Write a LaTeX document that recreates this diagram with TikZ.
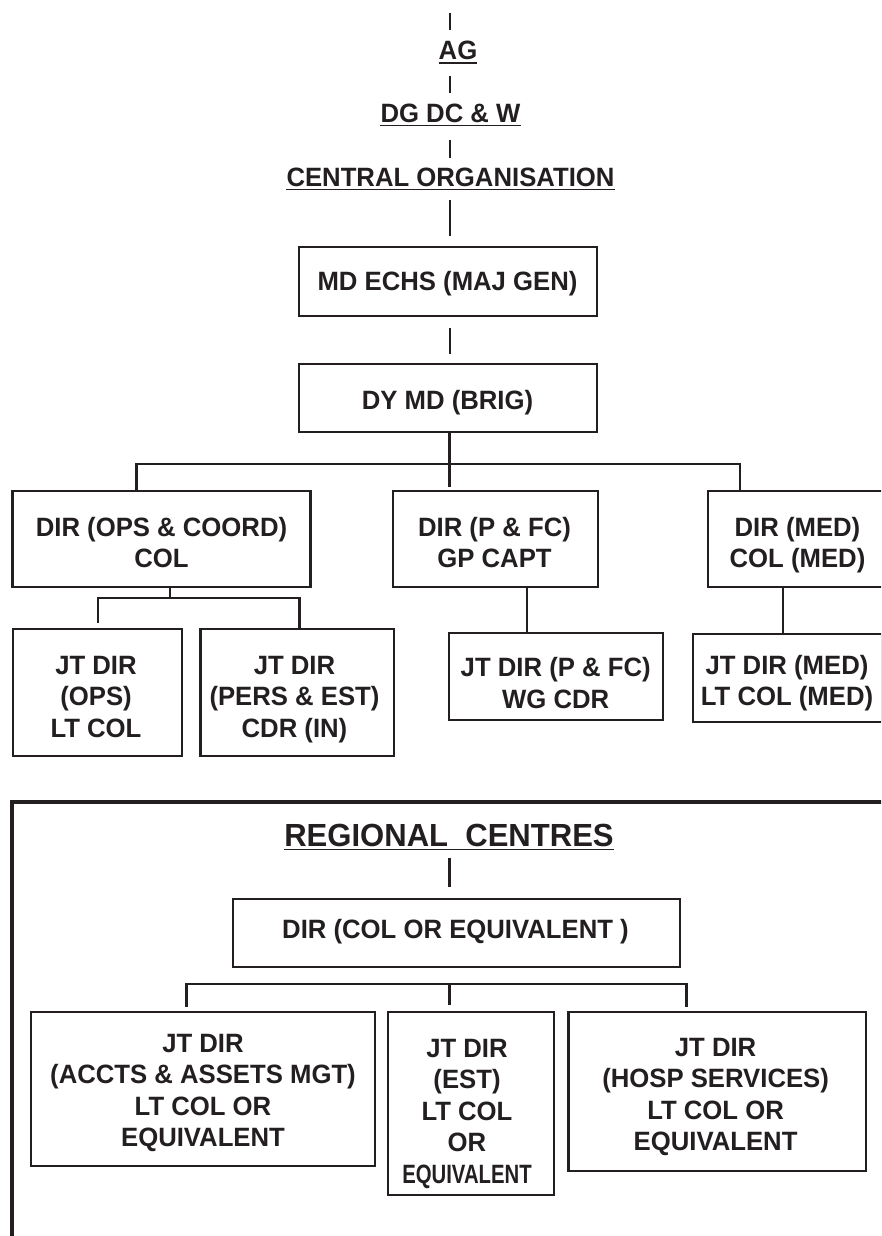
\documentclass[tikz,border=0pt]{standalone}
\usepackage{fontspec}
\setmainfont{Liberation Sans}[FakeStretch=0.97]
\usepackage{graphicx}
\definecolor{ink}{HTML}{231F20}
\begin{document}
\begin{tikzpicture}[x=1pt,y=-1pt,
  every node/.style={font=\bfseries\fontsize{26.5}{31.5}\selectfont, text=ink},
  lbl/.style={inner sep=0pt, anchor=base},
  box/.style={draw=ink, line width=2.5pt, inner sep=0pt},
  txt/.style={inner sep=0pt, align=center, text depth=0pt},
  conn/.style={draw=ink, line width=2.2pt},
  uline/.style={draw=ink, line width=1.8pt},
  frame/.style={draw=ink, line width=4pt}]
\useasboundingbox (0,0) rectangle (881,1236);
\clip (0,0) rectangle (881,1236);
\fill[white] (0,0) rectangle (881,1236);

% ---------- top titles ----------
\node[lbl] (ag) at (458,60) {AG};
\node[lbl] (dg) at (450.5,122.5) {DG DC \& W};
\node[lbl] (co) at (450.5,186.5) {CENTRAL ORGANISATION};
\draw[uline] ([yshift=-3pt]ag.base west) -- ([yshift=-3pt]ag.base east);
\draw[uline] ([yshift=-3pt]dg.base west) -- ([yshift=-3pt]dg.base east);
\draw[uline] ([yshift=-3pt]co.base west) -- ([yshift=-3pt]co.base east);

\coordinate (t0a) at (450,12.7);  \coordinate (t0b) at (450,30);
\coordinate (t1a) at (450,76);    \coordinate (t1b) at (450,93);
\coordinate (t2a) at (450,140);   \coordinate (t2b) at (450,158);
\draw[conn] (t0a) -- (t0b);
\draw[conn] (t1a) -- (t1b);
\draw[conn] (t2a) -- (t2b);

% ---------- central boxes ----------
\node[box, minimum width=298pt, minimum height=69pt] (md) at (448,281.5) {};
\node[txt] (mdt) at (447.5,281) {MD ECHS (MAJ GEN)};
\node[box, minimum width=298pt, minimum height=68pt] (dy) at (448,398) {};
\node[txt] (dyt) at (447.5,399.5) {DY MD (BRIG)};

\node[box, minimum width=298.3pt, minimum height=96pt] (opc) at (161.5,539) {};
\node[txt] (opct) at (161.5,542.5) {DIR (OPS \& COORD)\\COL};
\node[box, minimum width=205pt, minimum height=96pt] (pfc) at (495.5,539) {};
\node[txt] (pfct) at (494.5,542.5) {DIR (P \& FC)\\GP CAPT};
\node[box, minimum width=179pt, minimum height=96pt] (med) at (797.5,539) {};
\node[txt] (medt) at (797.5,542.5) {DIR (MED)\\COL (MED)};

\node[box, minimum width=169.3pt, minimum height=127pt] (ops) at (97.4,692.5) {};
\node[txt] (opst) at (96,696.5) {JT DIR\\(OPS)\\LT COL};
\node[box, minimum width=193.3pt, minimum height=127pt] (pers) at (297.3,692.5) {};
\node[txt] (perst) at (294.5,696.5) {JT DIR\\(PERS \& EST)\\CDR (IN)};
\node[box, minimum width=214pt, minimum height=87pt] (jpf) at (556,676.5) {};
\node[txt] (jpft) at (555.7,683) {JT DIR (P \& FC)\\WG CDR};
\node[box, minimum width=189pt, minimum height=88pt] (jmed) at (787.5,678) {};
\node[txt] (jmedt) at (787,680.5) {JT DIR (MED)\\LT COL (MED)};

% connectors, central
\coordinate (c0a) at (450,200);
\draw[conn] (c0a) -- ([yshift=10pt]md.north -| c0a);
\draw[conn] ([yshift=-11pt]md.south -| c0a) -- ([yshift=9pt]dy.north -| c0a);
\coordinate (d0) at (449.5,487);
\draw[conn] (dy.south -| d0) -- (d0);
\coordinate (b1L) at (136.5,464); \coordinate (b1R) at (740,464);
\draw[conn] (b1L |- opc.north) -- (b1L) -- (b1R) -- (b1R |- med.north);

\coordinate (b2) at (170,598);
\coordinate (b2L) at (98,598); \coordinate (b2R) at (299.5,598);
\coordinate (b2Le) at (98,623);
\draw[conn] (opc.south -| b2) -- (b2);
\draw[conn] (b2Le) -- (b2L) -- (b2R) -- (b2R |- pers.north);
\coordinate (p1) at (527,600);
\draw[conn] (pfc.south -| p1) -- (jpf.north -| p1);
\coordinate (m1) at (783,600);
\draw[conn] (med.south -| m1) -- (jmed.north -| m1);

% ---------- regional centres ----------
\draw[frame] (890,802) -- (12.4,802) -- (12.4,1245);
\node[lbl, font=\bfseries\fontsize{32}{36}\selectfont] (rc) at (449,846.5) {REGIONAL\ \ CENTRES};
\draw[uline] ([yshift=-3pt]rc.base west) -- ([yshift=-3pt]rc.base east);

\node[box, minimum width=447pt, minimum height=68pt] (rdir) at (456.5,933) {};
\node[txt] (rdirt) at (455.5,929) {DIR (COL OR EQUIVALENT )};

\node[box, minimum width=344pt, minimum height=154pt] (racc) at (203,1089) {};
\node[txt] (racct) at (203,1090.5) {JT DIR\\(ACCTS \& ASSETS MGT)\\LT COL OR\\EQUIVALENT};
\node[box, minimum width=166pt, minimum height=183pt] (rest) at (471,1103.5) {};
\node[txt] (restt) at (467,1111) {JT DIR\\(EST)\\LT COL\\OR\\\scalebox{0.79}[1]{EQUIVALENT}};
\node[box, minimum width=297.5pt, minimum height=159pt] (rhosp) at (717,1091.5) {};
\node[txt] (rhospt) at (715.6,1094.5) {JT DIR\\(HOSP SERVICES)\\LT COL OR\\EQUIVALENT};

\coordinate (r0) at (449.5,858);
\draw[conn] (r0) -- ([yshift=11pt]rdir.north -| r0);
\coordinate (r1L) at (186.5,984); \coordinate (r1R) at (686.5,984);
\coordinate (r1C) at (449.5,984);
\draw[conn] ([yshift=4pt]racc.north -| r1L) -- (r1L) -- (r1R) -- ([yshift=4pt]rhosp.north -| r1R);
\draw[conn] (r1C) -- ([yshift=6pt]rest.north -| r1C);
\end{tikzpicture}
\end{document}
